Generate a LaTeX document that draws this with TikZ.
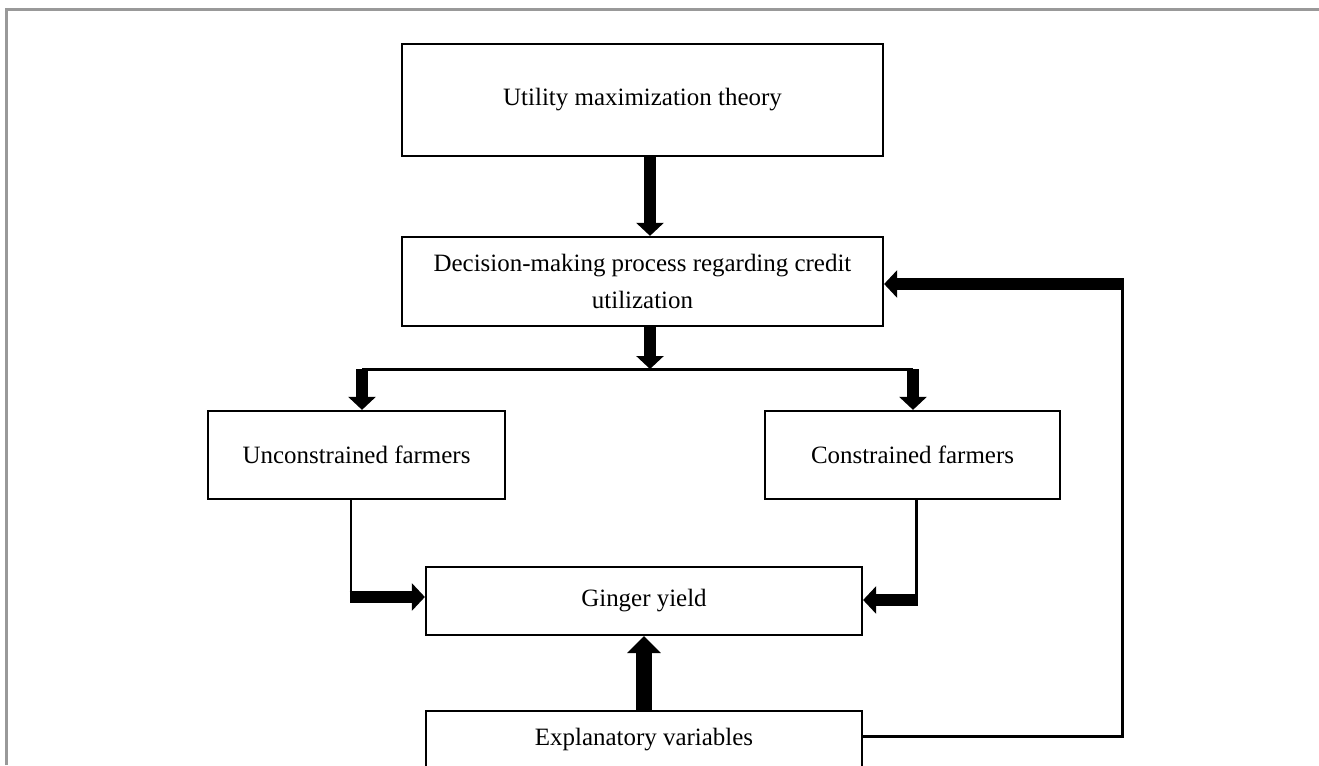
\documentclass[tikz,border=0pt]{standalone}
\usepackage{fontspec}
\setmainfont{Liberation Serif}
\usetikzlibrary{arrows.meta}

\tikzset{
  box/.style={draw, line width=1.3pt, inner sep=0pt, align=center,
    font=\fontsize{14.2}{21}\selectfont},
  thinline/.style={line width=1.7pt},
  fatarrow/.style={line width=6.8pt, -{Triangle[width=15.3pt,length=7.4pt]}},
  bigarrow/.style={line width=9.4pt, -{Triangle[width=18.7pt,length=9.6pt]}},
}

\begin{document}
\begin{tikzpicture}[x=0.02cm, y=-0.02cm]
    \clip (0,0) rectangle (1319,765);

    % frame
    \draw[black!40, line width=1.2pt] (6.5,765) -- (6.5,9.5) -- (1319,9.5);

    % boxes
    \node[box, minimum width=9.62cm, minimum height=2.24cm] (util) at (642.5,100) {Utility maximization theory};
    \node[box, minimum width=9.62cm, minimum height=1.78cm] (decision) at (642.5,281.5)
        {Decision-making process regarding credit\\utilization};
    \node[box, minimum width=5.94cm, minimum height=1.76cm] (uncons) at (356.5,455) {Unconstrained farmers};
    \node[box, minimum width=5.9cm, minimum height=1.76cm] (cons) at (912.5,455) {Constrained farmers};
    \node[box, minimum width=8.72cm, minimum height=1.36cm] (ginger) at (644,601) {Ginger yield};
    \node[box, minimum width=8.72cm, minimum height=1.16cm] (explan) at (644,740) {Explanatory variables};

    % split points
    \coordinate (split) at (650,369);
    \coordinate (splitL) at (362,369);
    \coordinate (splitR) at (913,369);
    \coordinate (ucorner) at (351,597);
    \coordinate (ccorner) at (916,600);
    \coordinate (fbcorner) at (1122,284);
    \coordinate (fbbottom) at (1122,736);

    % utility -> decision -> split
    \draw[fatarrow] (util.south -| split) -- (decision.north -| split);
    \draw[fatarrow] (decision.south -| split) -- (split);
    \draw[thinline] (splitL) -- (splitR);
    \draw[fatarrow] (splitL) -- (uncons.north -| splitL);
    \draw[fatarrow] (splitR) -- (cons.north -| splitR);

    % farmers -> ginger yield
    \draw[thinline] (uncons.south -| ucorner) -- (ucorner);
    \draw[fatarrow] ([xshift=-0.85pt]ucorner) -- (ginger.west |- ucorner);
    \draw[thinline] (cons.south -| ccorner) -- (ccorner);
    \draw[fatarrow] ([xshift=0.85pt]ccorner) -- (ginger.east |- ccorner);

    % explanatory variables
    \draw[bigarrow] (explan.north) -- (ginger.south);
    \draw[thinline] (explan.east |- fbbottom) -- (fbbottom) -- (fbcorner);
    \draw[fatarrow] ([xshift=0.85pt]fbcorner) -- (decision.east |- fbcorner);
\end{tikzpicture}
\end{document}
